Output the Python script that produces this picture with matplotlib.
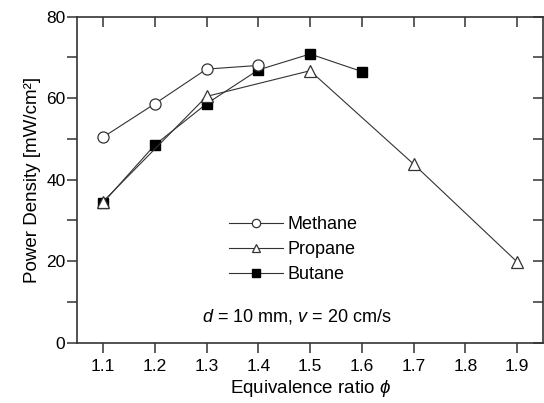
import numpy as np
import matplotlib
matplotlib.use('Agg')
from matplotlib import pyplot as plt
from matplotlib.ticker import MultipleLocator

plt.rcParams['font.family'] = ['Liberation Sans', 'DejaVu Sans']
plt.rcParams['mathtext.fontset'] = 'custom'
plt.rcParams['mathtext.rm'] = 'Liberation Sans'
plt.rcParams['mathtext.it'] = 'Liberation Sans:italic'

# data
methane_x = [1.1, 1.2, 1.3, 1.4]
methane_y = [50.4, 58.6, 67.1, 68.0]
propane_x = [1.1, 1.3, 1.5, 1.7, 1.9]
propane_y = [34.6, 60.4, 66.7, 43.8, 19.8]
butane_x = [1.1, 1.2, 1.3, 1.4, 1.5, 1.6]
butane_y = [34.3, 48.5, 58.6, 66.9, 70.8, 66.5]
xticks = [1.1, 1.2, 1.3, 1.4, 1.5, 1.6, 1.7, 1.8, 1.9]
xticklabels = ['1.1', '1.2', '1.3', '1.4', '1.5', '1.6', '1.7', '1.8', '1.9']

col = '#333333'
fig = plt.figure(figsize=(5.44, 4.03), dpi=100)
ax = fig.add_axes([0.142, 0.150, 0.856, 0.809])

# butane first so the triangle sits on top at 1.1
ax.plot(butane_x, butane_y, color=col, lw=0.8, marker='s', ms=7,
        mfc='black', mec='black', label='Butane', zorder=2)
ax.plot(methane_x, methane_y, color=col, lw=0.8, marker='o', ms=8,
        mfc='white', mec=col, mew=0.9, label='Methane', zorder=3)
ax.plot(propane_x, propane_y, color=col, lw=0.8, marker='^', ms=8,
        mfc='white', mec=col, mew=0.9, label='Propane', zorder=3)

ax.set_xlim(1.05, 1.95)
ax.set_ylim(0, 80)
ax.yaxis.set_major_locator(MultipleLocator(20))
ax.yaxis.set_minor_locator(MultipleLocator(10))
ax.set_xticks(xticks)
ax.set_xticklabels(xticklabels)

ax.tick_params(axis='both', which='major', labelsize=12.5, length=7, width=1.1, color=col)
ax.tick_params(axis='y', which='minor', length=7, width=1.1, color=col)
ax.tick_params(axis='y', which='major', pad=1.5)
ax.tick_params(axis='x', which='major', pad=4.5)
ax.tick_params(top=True, right=True, which='both')
ax.tick_params(axis='both', which='both', direction='out')
# top and right ticks point inward
for t in ax.xaxis.get_major_ticks():
    t.tick2line.set_marker(3)
for t in ax.yaxis.get_major_ticks() + ax.yaxis.get_minor_ticks():
    t.tick2line.set_marker(0)
for s in ax.spines.values():
    s.set_linewidth(1.2)
    s.set_color(col)

ax.set_xlabel(r'Equivalence ratio $\phi$', fontsize=13.5, labelpad=3)
ax.set_ylabel(r'Power Density [mW/cm²]', fontsize=13.5, labelpad=4)

h, l = ax.get_legend_handles_labels()
order = [1, 2, 0]
ax.legend([h[i] for i in order], [l[i] for i in order], frameon=False,
          fontsize=13, handlelength=3.0, labelspacing=0.45, handletextpad=0.25,
          markerscale=0.75, loc='center left', bbox_to_anchor=(0.29, 0.285))

ax.text(1.475, 6.4, r'$d$ = 10 mm, $v$ = 20 cm/s', fontsize=13,
        ha='center', va='center')

plt.savefig('out.png', dpi=100)
